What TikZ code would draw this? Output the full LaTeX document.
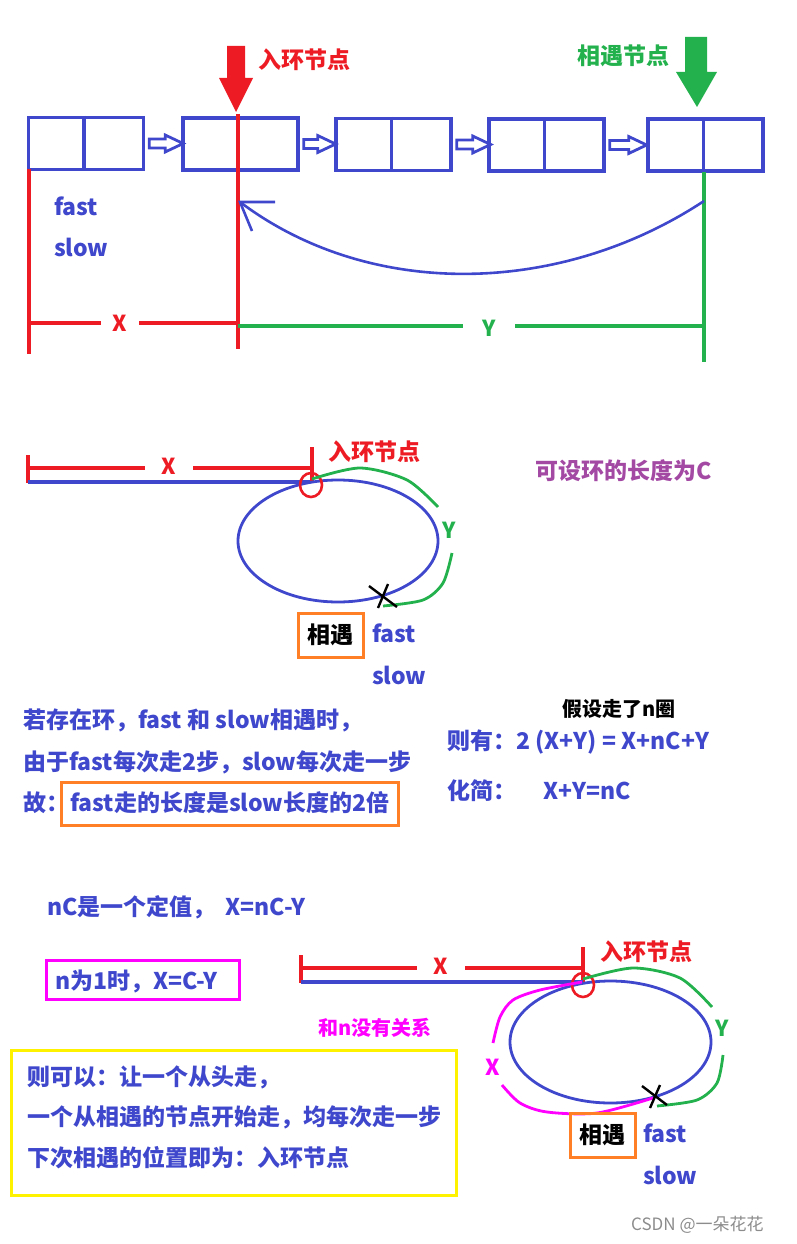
\documentclass[tikz,border=0pt]{standalone}
\usepackage{fontspec}
\newfontfamily\cjk{Noto Sans CJK SC}
\usetikzlibrary{calc}
\definecolor{pblue}{HTML}{3F48CC}
\definecolor{pred}{HTML}{ED1C24}
\definecolor{pgreen}{HTML}{22B14C}
\definecolor{porange}{HTML}{FF7F27}
\definecolor{pyellow}{HTML}{FFF200}
\definecolor{pmag}{HTML}{FF00FF}
\definecolor{ppurple}{HTML}{A349A4}
\begin{document}
\begin{tikzpicture}[x=1pt,y=-1pt,
  cell/.style={draw=pblue,line width=3.3pt,minimum width=115pt,minimum height=52pt,inner sep=0pt},
  bl/.style={draw=pblue,line width=3.2pt},
  hol/.style={draw=pblue,line width=2.8pt,line join=miter},
  rl/.style={draw=pred,line width=3.2pt},
  gl/.style={draw=pgreen,line width=3.2pt},
  ml/.style={draw=pmag,line width=3.2pt},
  t/.style={inner sep=0pt,anchor=west,font={\cjk\bfseries\fontsize{23}{27}\selectfont}},
  ts/.style={inner sep=0pt,anchor=west,font={\cjk\bfseries\fontsize{20}{24}\selectfont}},
  lab/.style={inner sep=0pt,font={\cjk\bfseries\fontsize{22}{26}\selectfont}},
  obox/.style={draw=porange,line width=3pt,minimum width=65pt,minimum height=44pt,inner sep=0pt,font={\cjk\bfseries\fontsize{23}{27}\selectfont},text=black}
]
\useasboundingbox (0,0) rectangle (797,1244);

% ---------- section 1 ----------
\node[cell] (b1) at (86,143.5) {};
\node[cell] (b2) at (240.5,144) {};
\node[cell] (b3) at (393.5,144.5) {};
\node[cell] (b4) at (546.5,145) {};
\node[cell] (b5) at (705.5,145) {};
\foreach \b in {b1,b2,b3,b4,b5}
  \draw[bl] ([xshift=-2pt]\b.north) -- ([xshift=-2pt]\b.south);
\foreach \a/\c/\L in {b1/b2/34,b2/b3/32,b3/b4/34,b4/b5/37}
  \draw[hol] ([xshift=4pt]\a.east) ++(0,4.5) -- ++(\L-18,0) -- ++(0,4) -- ++(18,-8.5)
     -- ++(-18,-8.5) -- ++(0,4) -- ++(-\L+18,0) -- cycle;

\coordinate (rtip) at (236,112);
\fill[pred] (227,46) -- (245,46) -- (245,78) -- (253,78) -- (rtip) -- (219,78) -- (227,78) -- cycle;
\node[t,text=pred] (lab1) at (258,60) {入环节点};
\coordinate (gtip) at (697,107);
\fill[pgreen] (685,37) -- (707,37) -- (707,72) -- (717,72) -- (gtip) -- (676,72) -- (685,72) -- cycle;
\node[t,text=pgreen] (lab2) at (577,56) {相遇节点};

\draw[rl] (29,169) -- (29,354);
\draw[rl] (238,114) -- (238,349);
\draw[rl] (29,323) -- (101,323);
\draw[rl] (139,323) -- (238,323);
\node[lab,text=pred] (x1) at (120,323) {X};
\draw[gl] (704,172) -- (704,362);
\draw[gl] (238,326) -- (463,326);
\draw[gl] (515,326) -- (706,326);
\node[lab,text=pgreen] (y1) at (489,328) {Y};

\coordinate (cs) at (704,201);
\coordinate (ce) at (240,202);
\draw[draw=pblue,line width=2.6pt] (cs) .. controls (560,296) and (370,300) .. (ce);
\draw[draw=pblue,line width=2.6pt] (275,202) -- (ce) -- (252,231);

\node[t,text=pblue] (f1) at (54,206) {fast};
\node[t,text=pblue] (s1) at (54,247) {slow};

% ---------- section 2 ----------
\draw[rl] (28,455) -- (28,483);
\draw[rl] (28,468) -- (145,468);
\draw[rl] (193,468) -- (312,468);
\draw[rl] (312,447) -- (312,482);
\node[lab,text=pred] (x2) at (169,466) {X};
\draw[bl] (28,482) -- (310,482);
\draw[bl,line width=2.8pt] (338,541) ellipse [x radius=100, y radius=61];
\draw[draw=pred,line width=2.6pt] (311,485) ellipse [x radius=11, y radius=12];
\draw[gl,line width=2.8pt] plot[smooth] coordinates {(312,479) (360,468) (407,480) (438,507)};
\draw[gl,line width=2.8pt] plot[smooth] coordinates {(452,553) (443,583) (423,600) (383,606)};
\node[lab,text=pgreen] (y2) at (449,530) {Y};
\draw[black,line width=2.4pt] (369,586) -- (397,607);
\draw[black,line width=2.4pt] (388,584) -- (378,608);
\node[obox] (m1) at (330.5,635) {相遇};
\node[t,text=pblue] (f2) at (372,633) {fast};
\node[t,text=pblue] (s2) at (372,675) {slow};
\node[t,text=pred] (lab3) at (328,452) {入环节点};
\node[t,text=ppurple] (len) at (535,471) {可设环的长度为C};

% ---------- section 3 ----------
\node[t,text=pblue] (l1) at (23,720) {若存在环，fast 和 slow相遇时，};
\node[t,text=pblue] (l2) at (23,762) {由于fast每次走2步，slow每次走一步};
\node[t,text=pblue] (l3) at (23,803) {故：};
\node[draw=porange,line width=3pt,anchor=north west,minimum width=337pt,minimum height=43pt,inner sep=0pt] (ob) at (60,781) {};
\node[t,text=pblue] (l4) at (70,803) {fast走的长度是slow长度的2倍};
\node[ts,text=black] (nq) at (562,709) {假设走了n圈};
\node[t,text=pblue] (eq1) at (447,742) {则有：2 (X+Y) = X+nC+Y};
\node[t,text=pblue] (eq2) at (447,791) {化简：\hspace{27pt}X+Y=nC};

% ---------- section 4 ----------
\node[t,text=pblue] (nc) at (47,907) {nC是一个定值，\hspace{10pt}X=nC-Y};
\node[draw=pmag,line width=3pt,anchor=north west,minimum width=193pt,minimum height=39pt,inner sep=0pt] (mb) at (45,959) {};
\node[t,text=pblue] (n1) at (55,981) {n为1时，X=C-Y};
\node[ts,text=pmag] (nrel) at (318,1028) {和n没有关系};
\node[draw=pyellow,line width=3.3pt,anchor=north west,minimum width=445pt,minimum height=145pt,inner sep=0pt] (yb) at (10,1049) {};
\node[t,text=pblue] (y1l) at (27,1077) {则可以：让一个从头走，};
\node[t,text=pblue] (y2l) at (27,1117) {一个从相遇的节点开始走，均每次走一步};
\node[t,text=pblue] (y3l) at (27,1158) {下次相遇的位置即为：入环节点};

\draw[rl] (301,955) -- (301,983);
\draw[rl] (301,968) -- (417,968);
\draw[rl] (465,968) -- (583,968);
\draw[rl] (583,947) -- (583,982);
\node[lab,text=pred] (x3) at (441,966) {X};
\draw[bl] (301,982) -- (583,982);
\draw[bl,line width=2.8pt] (610.5,1042) ellipse [x radius=100.5, y radius=61];
\draw[draw=pred,line width=2.6pt] (583,985) ellipse [x radius=11, y radius=12];
\draw[gl,line width=2.8pt] plot[smooth] coordinates {(583,979) (633,968) (680,978) (712,1007)};
\draw[gl,line width=2.8pt] plot[smooth] coordinates {(723,1055) (717,1083) (697,1100) (657,1106)};
\node[lab,text=pgreen] (y3) at (722,1028) {Y};
\draw[ml,line width=2.8pt] plot[smooth] coordinates {(582,982) (540,990) (513,1000) (500,1017) (493,1043)};
\draw[ml,line width=2.8pt] plot[smooth] coordinates {(502,1085) (520,1103) (547,1112) (597,1113) (653,1098)};
\node[lab,text=pmag] (x4) at (493,1067) {X};
\draw[black,line width=2.4pt] (642,1086) -- (667,1105);
\draw[black,line width=2.4pt] (660,1085) -- (650,1108);
\node[obox] (m2) at (602.5,1135) {相遇};
\node[t,text=pblue] (f3) at (643,1133) {fast};
\node[t,text=pblue] (s3) at (643,1175) {slow};
\node[t,text=pred] (lab4) at (600,952) {入环节点};

\node[inner sep=0pt,anchor=west,text=black!45,font={\cjk\fontsize{17}{20}\selectfont}] (wm) at (631,1225) {CSDN @一朵花花};
\end{tikzpicture}
\end{document}
